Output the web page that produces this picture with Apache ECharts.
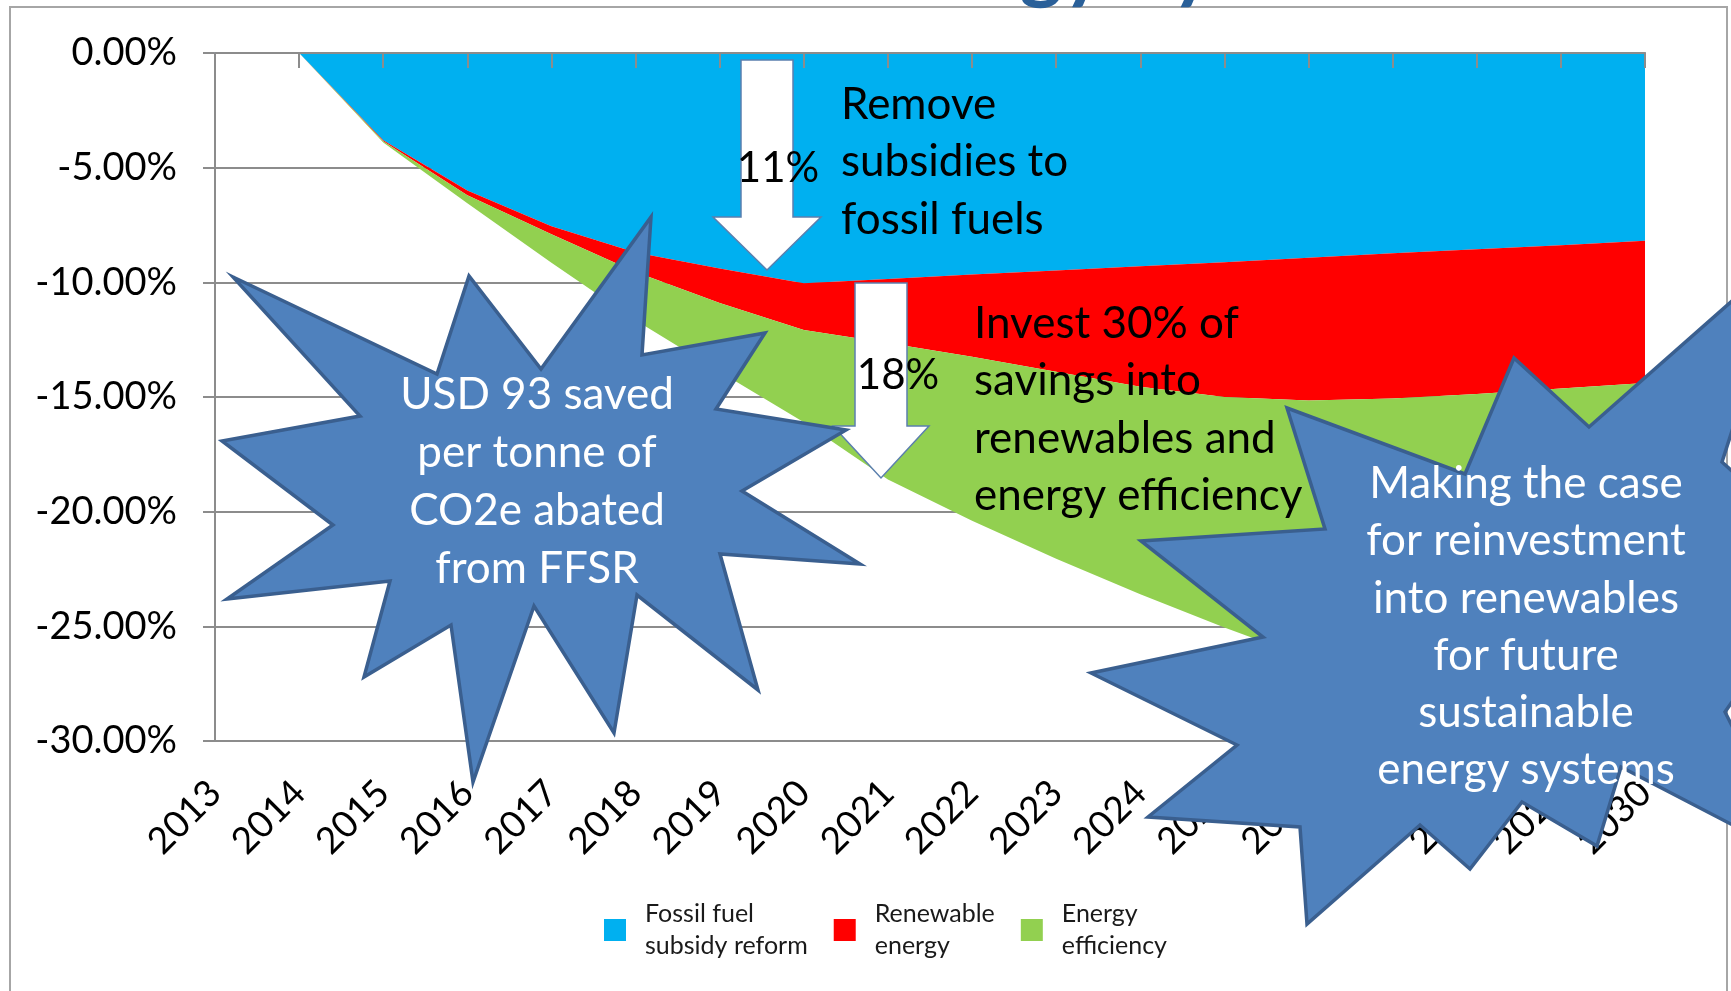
<!DOCTYPE html>
<html>
<head>
<meta charset="utf-8">
<title>FFSR reinvestment chart</title>
<script src="https://cdn.jsdelivr.net/npm/echarts@6/dist/echarts.min.js"></script>
<style>
  html, body { margin: 0; padding: 0; background: #fff; }
  #chart { width: 1731px; height: 991px; }
</style>
</head>
<body>
<div id="chart"></div>
<script>
// years on the x axis
const years = ['2013', '2014', '2015', '2016', '2017', '2018', '2019', '2020', '2021',
  '2022', '2023', '2024', '2025', '2026', '2027', '2028', '2029', '2030'];

// emission change per measure (%), stacked downwards
const fossilFuelReform = [0, 0, -3.80, -6.00, -7.55, -8.70, -9.40, -10.04, -9.85,
  -9.66, -9.48, -9.30, -9.12, -8.93, -8.73, -8.56, -8.38, -8.19];
const renewableEnergy = [0, 0, -0.05, -0.20, -0.35, -0.85, -1.50, -2.04, -2.79,
  -3.59, -4.42, -5.25, -5.88, -6.22, -6.34, -6.31, -6.25, -6.20];
const energyEfficiency = [0, 0, -0.05, -0.35, -1.25, -2.10, -3.00, -4.02, -5.96,
  -7.15, -8.15, -9.05, -10.05, -11.25, -12.53, -13.73, -14.77, -15.50];

// y axis ticks
const yMin = -30;
const yMax = 0;
const yStep = 5;

const seriesNames = ['Fossil fuel subsidy reform', 'Renewable energy', 'Energy efficiency'];
const legendLabels = ['Fossil fuel\nsubsidy reform', 'Renewable\nenergy', 'Energy\nefficiency'];
const seriesColors = ['#00B0F0', '#FF0000', '#92D050'];

const FONT = 'Lato, "Open Sans", sans-serif';
const GRID_GRAY = '#8c8c8c';

const chart = echarts.init(document.getElementById('chart'));

// explosion shapes drawn over the chart
const star1 = [[233, 277], [437, 374], [469, 276], [541, 369], [651, 217], [642, 355],
  [765, 333], [716, 409], [846, 430], [742, 491], [860, 564], [720, 554], [758, 690],
  [637, 595], [614, 733], [534, 606], [473, 782], [451, 625], [364, 677], [390, 581],
  [227, 599], [333, 525], [222, 441], [360, 416]];
const star2 = [[1287, 408], [1465, 474], [1514, 358], [1589, 427], [1790, 250],
  [1722, 462], [1830, 560], [1725, 712], [1800, 860], [1621, 767], [1597, 846],
  [1522, 802], [1470, 869], [1420, 825], [1307, 924], [1300, 827], [1148, 817],
  [1237, 745], [1091, 673], [1263, 637], [1141, 541], [1325, 529]];

const arrow1 = [[741, 60], [793, 60], [793, 217], [821, 217], [767, 270], [713, 217], [741, 217]];
const arrow2 = [[855, 283], [907, 283], [907, 426], [929, 426], [881, 478], [833, 426], [855, 426]];

const starStyle = { fill: '#4F81BD', stroke: '#3A5F8F', lineWidth: 3.5, lineJoin: 'miter' };
const arrowStyle = { fill: '#ffffff', stroke: '#5B7FAE', lineWidth: 1.5 };

function makeSeries(i, values) {
  return {
    name: seriesNames[i],
    type: 'line',
    stack: 'total',
    data: values,
    symbol: 'none',
    showSymbol: false,
    lineStyle: { width: 0 },
    itemStyle: { color: seriesColors[i] },
    areaStyle: { color: seriesColors[i], opacity: 1 },
    emphasis: { disabled: true }
  };
}

chart.setOption({
  backgroundColor: '#ffffff',
  animation: false,
  textStyle: { fontFamily: FONT },
  grid: { left: 215, right: 86, top: 53, bottom: 250, containLabel: false },
  legend: {
    left: 599,
    top: 893,
    icon: 'rect',
    itemWidth: 22,
    itemHeight: 22,
    itemGap: 26,
    data: seriesNames,
    formatter: name => legendLabels[seriesNames.indexOf(name)],
    textStyle: { fontSize: 25, lineHeight: 32, color: '#1a1a1a', fontFamily: FONT, padding: [0, 0, 0, 14] }
  },
  xAxis: [
    {
      type: 'category',
      data: years,
      boundaryGap: false,
      position: 'bottom',
      z: 5,
      axisLine: { lineStyle: { color: '#8DB3E2', width: 2 } },
      axisTick: { show: false },
      axisLabel: { rotate: 45, interval: 0, margin: 46, fontSize: 37, color: '#000', fontFamily: FONT }
    },
    {
      type: 'category',
      data: years,
      boundaryGap: false,
      position: 'top',
      z: 5,
      axisLine: { lineStyle: { color: GRID_GRAY, width: 2 } },
      axisTick: { show: true, inside: true, length: 15, interval: 0, lineStyle: { color: GRID_GRAY, width: 2 } },
      axisLabel: { show: false }
    }
  ],
  yAxis: {
    type: 'value',
    min: yMin,
    max: yMax,
    interval: yStep,
    axisLine: { show: true, lineStyle: { color: GRID_GRAY, width: 2 } },
    axisTick: { show: true, length: 12, lineStyle: { color: GRID_GRAY, width: 2 } },
    splitLine: { lineStyle: { color: GRID_GRAY, width: 2 } },
    axisLabel: {
      formatter: v => v.toFixed(2) + '%',
      fontSize: 38,
      margin: 38,
      color: '#000',
      fontFamily: FONT
    }
  },
  series: [
    makeSeries(0, fossilFuelReform),
    makeSeries(1, renewableEnergy),
    makeSeries(2, energyEfficiency)
  ],
  graphic: [
    // outer frame of the slide chart
    {
      type: 'rect', silent: true, z: -1,
      shape: { x: 10, y: 7, width: 1717, height: 1000 },
      style: { fill: 'none', stroke: '#a6a6a6', lineWidth: 2 }
    },
    // slide title, cut off at the top
    {
      type: 'text', silent: true, z: 5,
      style: { x: 853, y: 8, text: 'Energy by 2030', font: 'bold 82px ' + FONT, fill: '#2A6099', verticalAlign: 'bottom' }
    },
    { type: 'polygon', silent: true, z: 10, shape: { points: arrow1 }, style: arrowStyle },
    { type: 'polygon', silent: true, z: 10, shape: { points: arrow2 }, style: arrowStyle },
    {
      type: 'text', silent: true, z: 20,
      style: { x: 778, y: 168, text: '11%', font: '42px ' + FONT, fill: '#000', align: 'center', verticalAlign: 'middle' }
    },
    {
      type: 'text', silent: true, z: 20,
      style: { x: 898, y: 375, text: '18%', font: '42px ' + FONT, fill: '#000', align: 'center', verticalAlign: 'middle' }
    },
    {
      type: 'text', silent: true, z: 20,
      style: {
        x: 841, y: 162, text: 'Remove\nsubsidies to\nfossil fuels',
        font: '44px ' + FONT, lineHeight: 57.5, fill: '#000', align: 'left', verticalAlign: 'middle'
      }
    },
    {
      type: 'text', silent: true, z: 20,
      style: {
        x: 974, y: 410, text: 'Invest 30% of\nsavings into\nrenewables and\nenergy efficiency',
        font: '44px ' + FONT, lineHeight: 57.4, fill: '#000', align: 'left', verticalAlign: 'middle'
      }
    },
    { type: 'polygon', silent: true, z: 30, shape: { points: star1 }, style: starStyle },
    { type: 'polygon', silent: true, z: 30, shape: { points: star2 }, style: starStyle },
    {
      type: 'text', silent: true, z: 40,
      style: {
        x: 537, y: 482, text: 'USD 93 saved\nper tonne of\nCO2e abated\nfrom FFSR',
        font: '44px ' + FONT, lineHeight: 58, fill: '#fff', align: 'center', verticalAlign: 'middle'
      }
    },
    {
      type: 'text', silent: true, z: 40,
      style: {
        x: 1526, y: 627, text: 'Making the case\nfor reinvestment\ninto renewables\nfor future\nsustainable\nenergy systems',
        font: '44px ' + FONT, lineHeight: 57.2, fill: '#fff', align: 'center', verticalAlign: 'middle'
      }
    }
  ]
});
</script>
</body>
</html>
